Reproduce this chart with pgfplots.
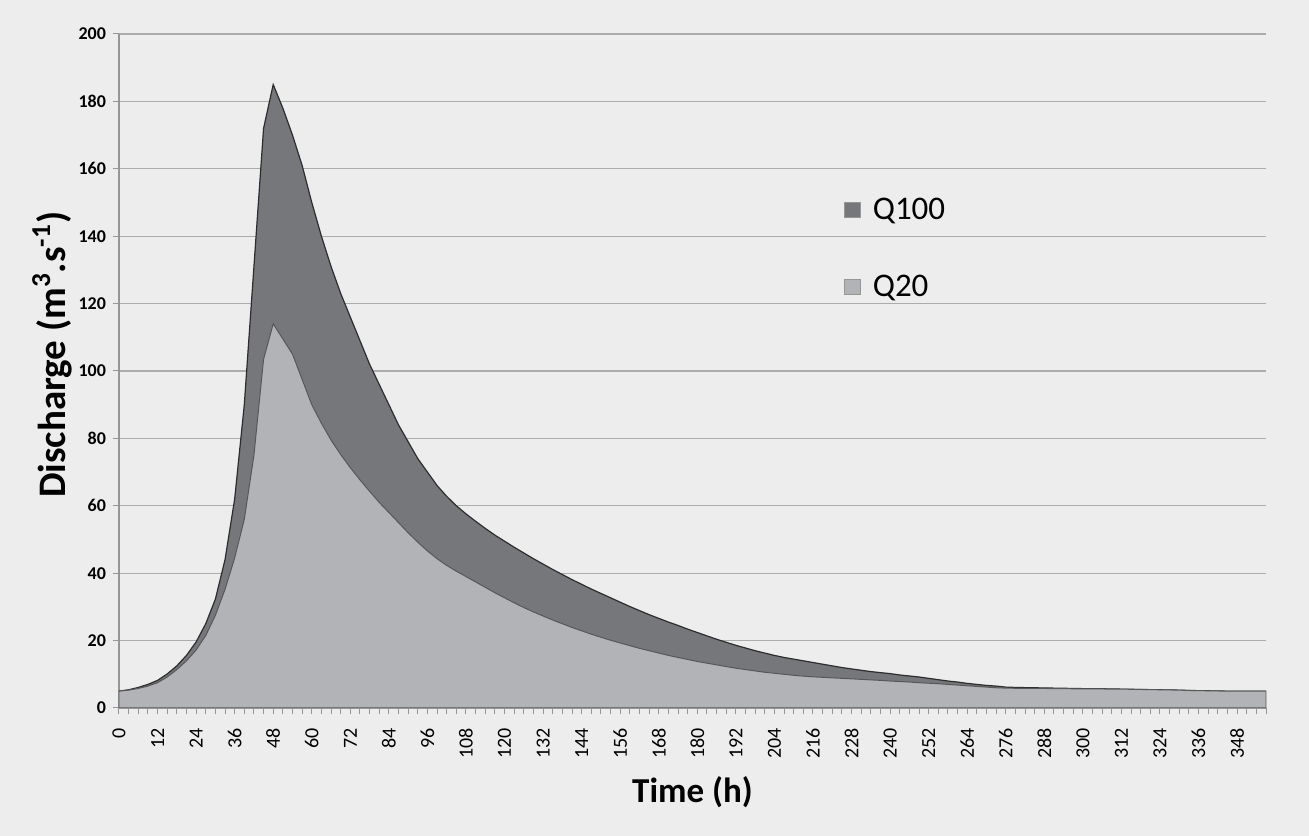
\documentclass[border=0pt]{standalone}
\usepackage{fontspec}
\setmainfont{Carlito}
\usepackage{pgfplots}
\pgfplotsset{compat=1.18}
\usetikzlibrary{backgrounds,calc}

\definecolor{bg}{RGB}{237,237,237}
\definecolor{qhi}{RGB}{118,119,123}
\definecolor{qlo}{RGB}{178,179,183}
\definecolor{gridc}{RGB}{172,172,172}
\definecolor{axc}{RGB}{150,150,150}
\definecolor{edge}{RGB}{45,45,45}

\begin{document}
\begin{tikzpicture}
\begin{axis}[
  scale only axis, width=573.5pt, height=337pt,
  xmin=0, xmax=357, ymin=0, ymax=200,
  axis lines=left, axis line style={-,draw=axc,line width=0.6pt},
  xtick={0,12,...,348}, minor xtick={0,3,...,357},
  ytick={0,20,...,200},
  tick align=outside, major tick length=3pt, minor tick length=3pt,
  every tick/.style={draw=axc,line width=0.5pt},
  every minor tick/.style={draw=axc,line width=0.5pt},
  ymajorgrids, major grid style={draw=gridc,line width=0.6pt},
  /pgf/number format/assume math mode=true,
  xticklabel shift=3.5pt,
  xticklabel style={rotate=90,anchor=east,font=\fontsize{10}{11}\selectfont},
  yticklabel style={font=\bfseries\fontsize{9}{10}\selectfont},
  xlabel={Time (h)}, ylabel={Discharge (m\textsuperscript{3}.s\textsuperscript{-1})},
  every axis x label/.style={at={(axis description cs:0.5,-0.1246)},anchor=center,font=\bfseries\fontsize{17.5}{20}\selectfont},
  every axis y label/.style={at={(axis description cs:-0.0585,0.524)},rotate=90,anchor=center,font=\bfseries\fontsize{19.5}{22}\selectfont},
  legend style={at={(axis description cs:0.632,0.757)},anchor=north west,draw=none,fill=none,
    font=\fontsize{16.5}{18}\selectfont,row sep=26pt,inner sep=0pt,
    nodes={inner sep=0pt}},
  legend cell align=left,
  legend image code/.code={\draw[#1,draw=axc,line width=0.5pt] (0pt,-3.8pt) rectangle (7.6pt,3.8pt);
    \path[draw=none,fill=none] (7.6pt,0pt) -- (14pt,0pt);},
]
\addplot[fill=qhi,draw=edge,line width=0.6pt] coordinates {
(0,5.0)(3,5.4)(6,6.1)(9,7.0)(12,8.2)(15,10.1)(18,12.5)(21,15.6)(24,19.6)(27,25.0)
(30,32.3)(33,44)(36,62)(39,90)(42,131)(45,172)(48,185)(51,178)(54,170)(57,161)
(60,150)(63,140)(66,131)(69,123)(72,116)(75,109)(78,102)(81,96)(84,90)(87,84)
(90,79)(93,74)(96,70)(99,66)(102,62.8)(105,60)(108,57.6)(111,55.4)(114,53.3)(117,51.3)
(120,49.5)(123,47.7)(126,46.0)(129,44.3)(132,42.7)(135,41.1)(138,39.6)(141,38.1)(144,36.7)(147,35.3)
(150,34.0)(153,32.7)(156,31.4)(159,30.1)(162,28.9)(165,27.7)(168,26.6)(171,25.5)(174,24.5)(177,23.4)
(180,22.4)(183,21.4)(186,20.4)(189,19.5)(192,18.6)(195,17.8)(198,17.0)(201,16.3)(204,15.6)(207,15.0)
(210,14.5)(213,14.0)(216,13.5)(219,13.0)(222,12.5)(225,12.0)(228,11.6)(231,11.2)(234,10.8)(237,10.5)
(240,10.2)(243,9.8)(246,9.5)(249,9.2)(252,8.8)(255,8.4)(258,8.0)(261,7.7)(264,7.3)(267,7.0)
(270,6.7)(273,6.5)(276,6.2)(279,6.1)(282,6.05)(285,6.0)(288,5.95)(291,5.9)(294,5.85)(297,5.8)
(300,5.75)(303,5.7)(306,5.7)(309,5.65)(312,5.6)(315,5.55)(318,5.5)(321,5.45)(324,5.4)(327,5.35)
(330,5.3)(333,5.2)(336,5.15)(339,5.1)(342,5.05)(345,5.0)(348,5.0)(351,5.0)(354,5.0)(357,5.0)
} \closedcycle;
\addlegendentry{Q100}
\addplot[fill=qlo,draw=edge!80,line width=0.5pt] coordinates {
(0,5.0)(3,5.3)(6,5.8)(9,6.5)(12,7.5)(15,9.2)(18,11.4)(21,14.0)(24,17.2)(27,21.5)
(30,27.5)(33,35.2)(36,44.5)(39,56)(42,75)(45,103.5)(48,114)(51,109.5)(54,105)(57,97.5)
(60,90)(63,84.5)(66,79.5)(69,75.2)(72,71.3)(75,67.7)(78,64.3)(81,61)(84,58)(87,55)
(90,52)(93,49.2)(96,46.6)(99,44.3)(102,42.3)(105,40.6)(108,39.0)(111,37.4)(114,35.8)(117,34.2)
(120,32.7)(123,31.2)(126,29.8)(129,28.5)(132,27.3)(135,26.1)(138,25.0)(141,23.9)(144,22.9)(147,21.9)
(150,21.0)(153,20.1)(156,19.3)(159,18.5)(162,17.7)(165,17.0)(168,16.3)(171,15.6)(174,15.0)(177,14.4)
(180,13.8)(183,13.3)(186,12.8)(189,12.3)(192,11.8)(195,11.4)(198,11.0)(201,10.6)(204,10.3)(207,10.0)
(210,9.7)(213,9.45)(216,9.25)(219,9.1)(222,8.95)(225,8.8)(228,8.65)(231,8.5)(234,8.35)(237,8.2)
(240,8.0)(243,7.85)(246,7.7)(249,7.5)(252,7.35)(255,7.2)(258,7.0)(261,6.8)(264,6.6)(267,6.4)
(270,6.2)(273,6.0)(276,5.9)(279,5.85)(282,5.8)(285,5.8)(288,5.8)(291,5.75)(294,5.75)(297,5.7)
(300,5.7)(303,5.65)(306,5.65)(309,5.6)(312,5.6)(315,5.55)(318,5.5)(321,5.45)(324,5.4)(327,5.35)
(330,5.3)(333,5.2)(336,5.15)(339,5.1)(342,5.05)(345,5.0)(348,5.0)(351,5.0)(354,5.0)(357,5.0)
} \closedcycle;
\addlegendentry{Q20}
\coordinate (SW) at (rel axis cs:0,0);
\coordinate (NE) at (rel axis cs:1,1);
\end{axis}
\begin{scope}[on background layer]
\fill[bg] ($(SW)+(-59.5pt,-64pt)$) rectangle ($(NE)+(21.5pt,17pt)$);
\end{scope}
\path[use as bounding box] ($(SW)+(-59.5pt,-64pt)$) rectangle ($(NE)+(21.5pt,17pt)$);
\end{tikzpicture}
\end{document}
